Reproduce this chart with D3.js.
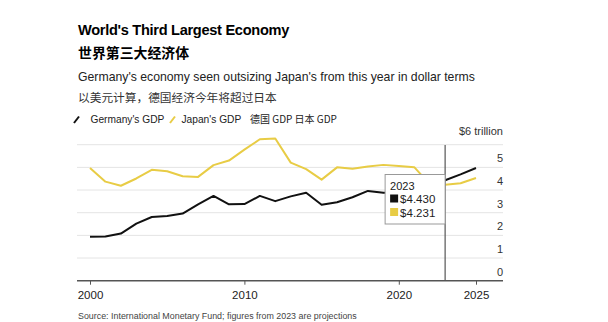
<!DOCTYPE html>
<html>
<head>
<meta charset="utf-8">
<script src="https://cdn.jsdelivr.net/npm/d3@7"></script>
<style>
    html, body { margin: 0; padding: 0; background: #fff; }
    svg { display: block; font-family: "Liberation Sans", Arial, "Noto Sans CJK SC", sans-serif; }
</style>
</head>
<body>
<svg id="chart" width="608" height="322"></svg>
<script>
const years = d3.range(2000, 2026);
const germanyGdp = [1.94, 1.95, 2.08, 2.52, 2.81, 2.85, 2.96, 3.37, 3.74, 3.37, 3.38, 3.74, 3.51, 3.72, 3.88, 3.35, 3.46, 3.68, 3.96, 3.88, 3.89, 4.26, 4.08, 4.43, 4.69, 4.97];
const japanGdp = [4.97, 4.37, 4.19, 4.51, 4.89, 4.83, 4.61, 4.58, 5.10, 5.30, 5.78, 6.24, 6.27, 5.21, 4.92, 4.46, 5.00, 4.94, 5.04, 5.11, 5.06, 5.01, 4.26, 4.23, 4.30, 4.53];
const yTicks = [0, 1, 2, 3, 4, 5, 6];
const xTicks = [2000, 2010, 2020, 2025];
const focusYear = 2023;
const focusLabels = ["$4.430", "$4.231"];

const black = "#111";
const yellow = "#e8cc45";
const cjk = "'Noto Sans CJK SC', sans-serif";

const svg = d3.select("#chart");

const x = d3.scaleLinear().domain([2000, 2025]).range([90, 476]);
const y = d3.scaleLinear().domain([0, 6]).range([280.7, 144.7]);
const left = 77, right = 503;

// headings
svg.append("text").attr("x", 78).attr("y", 35)
    .attr("font-size", 14.6).attr("font-weight", "bold").attr("fill", "#000")
    .attr("letter-spacing", -0.3)
    .text("World's Third Largest Economy");
svg.append("text").attr("x", 78).attr("y", 57.5)
    .attr("font-family", cjk).attr("font-size", 13.9).attr("font-weight", "bold").attr("fill", "#000")
    .text("世界第三大经济体");
svg.append("text").attr("x", 78).attr("y", 81)
    .attr("font-size", 12.25).attr("fill", "#222")
    .text("Germany's economy seen outsizing Japan's from this year in dollar terms");
svg.append("text").attr("x", 78).attr("y", 102)
    .attr("font-family", cjk).attr("font-size", 11.7).attr("fill", "#333")
    .text("以美元计算，德国经济今年将超过日本");

// legend
const legend = svg.append("g").attr("font-size", 10.2).attr("fill", "#222");
legend.append("line").attr("x1", 74).attr("y1", 123).attr("x2", 79).attr("y2", 116.5)
    .attr("stroke", black).attr("stroke-width", 2);
legend.append("text").attr("x", 90.5).attr("y", 123).text("Germany's GDP");
legend.append("line").attr("x1", 170).attr("y1", 123).attr("x2", 175).attr("y2", 116.5)
    .attr("stroke", yellow).attr("stroke-width", 2);
legend.append("text").attr("x", 181.5).attr("y", 123).text("Japan's GDP");
legend.append("text").attr("x", 250).attr("y", 123).attr("font-family", cjk).attr("font-size", 10)
    .text("德国 GDP 日本 GDP");

// gridlines and y labels
const grid = svg.append("g");
grid.selectAll("line").data(yTicks.filter(d => d > 0)).join("line")
    .attr("x1", left).attr("x2", right)
    .attr("y1", d => y(d)).attr("y2", d => y(d))
    .attr("stroke", "#e4e4e4").attr("stroke-width", 1);
grid.selectAll("text").data(yTicks).join("text")
    .attr("x", right).attr("y", d => y(d) - 5)
    .attr("text-anchor", "end").attr("font-size", 11).attr("fill", "#333")
    .text(d => d === 6 ? "$6 trillion" : d)
    .attr("dy", d => d === 6 ? -5 : 0);

// x axis
const xAxis = svg.append("g").attr("transform", `translate(0,${y(0)})`)
    .call(d3.axisBottom(x).tickValues(xTicks).tickFormat(d3.format("d")).tickSize(4).tickPadding(6));
xAxis.select(".domain").remove();
xAxis.selectAll(".tick line").attr("stroke", "#555");
xAxis.selectAll(".tick text").attr("font-size", 11.5).attr("fill", "#222")
    .attr("font-family", "'Liberation Sans', Arial, sans-serif");
xAxis.append("line").attr("x1", left).attr("x2", right).attr("stroke", "#555").attr("stroke-width", 1.5);

// lines
const line = d3.line().x((d, i) => x(years[i])).y(d => y(d));
svg.append("path").datum(japanGdp).attr("d", line)
    .attr("fill", "none").attr("stroke", yellow).attr("stroke-width", 2)
    .attr("stroke-linejoin", "round");
svg.append("path").datum(germanyGdp).attr("d", line)
    .attr("fill", "none").attr("stroke", black).attr("stroke-width", 2)
    .attr("stroke-linejoin", "round");

// projection marker
svg.append("line").attr("x1", x(focusYear)).attr("x2", x(focusYear))
    .attr("y1", 145).attr("y2", y(0))
    .attr("stroke", "#555").attr("stroke-width", 1.2);

// tooltip
const tip = svg.append("g").attr("transform", `translate(${x(focusYear) - 60},174.5)`);
tip.append("rect").attr("width", 60).attr("height", 49.5)
    .attr("fill", "#fff").attr("stroke", "#999").attr("stroke-width", 1);
tip.append("text").attr("x", 5).attr("y", 15).attr("font-size", 11).attr("fill", "#222").text(focusYear);
[black, yellow].forEach((c, i) => {
    tip.append("rect").attr("x", 5).attr("y", 20 + i * 13.5).attr("width", 8).attr("height", 8).attr("fill", c);
    tip.append("text").attr("x", 15).attr("y", 28.5 + i * 13.5).attr("font-size", 11.5).attr("fill", "#222")
        .text(focusLabels[i]);
});

// source
svg.append("text").attr("x", 78).attr("y", 318.5)
    .attr("font-size", 8.9).attr("fill", "#444")
    .text("Source: International Monetary Fund; figures from 2023 are projections");
</script>
</body>
</html>
